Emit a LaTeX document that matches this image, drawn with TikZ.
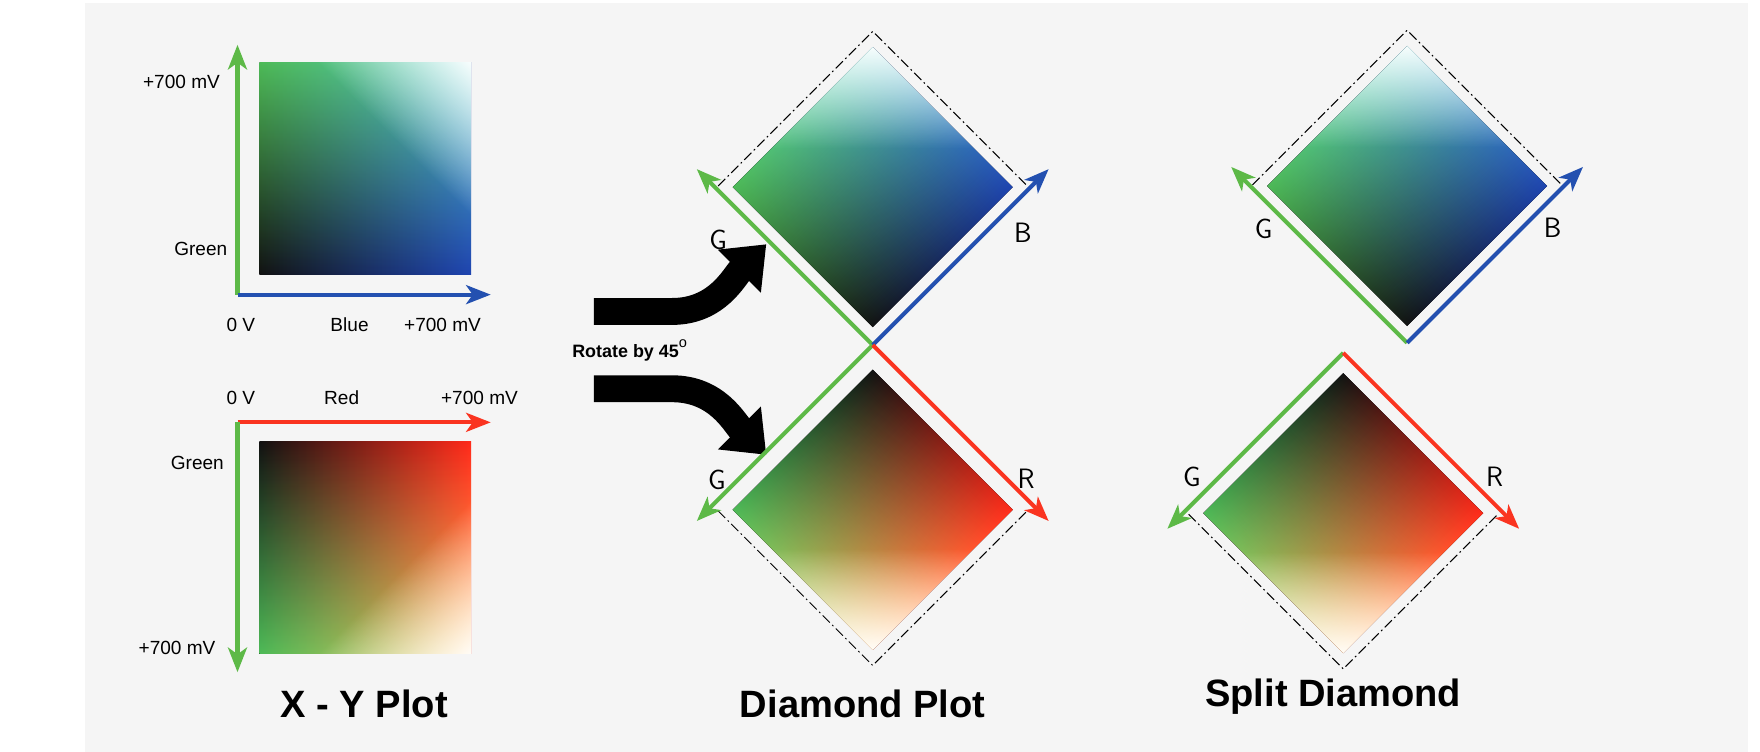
\documentclass[tikz,border=0pt]{standalone}
\usepackage{fontspec}
\setmainfont{Liberation Sans}
\usetikzlibrary{arrows.meta}
\definecolor{bg}{HTML}{F5F5F5}
\definecolor{ag}{HTML}{5DB947}
\definecolor{ab}{HTML}{2350B0}
\definecolor{ar}{HTML}{FA3420}
\definecolor{cg}{HTML}{40B44A}
\definecolor{cb}{HTML}{1E44B0}
\definecolor{cr}{HTML}{FF2A1A}
\definecolor{ck}{HTML}{111111}
\pgfdeclarehorizontalshading{wcorner}{100bp}{color(0bp)=(black); color(60bp)=(black); color(87bp)=(white); color(100bp)=(white)}
% #1 half side, #2 x colour (grows left->right), #3 top colour of vertical, #4 bottom colour of vertical, #5 white corner angle
\newcommand\colsq[5]{%
  \begin{scope}[yscale=-1]
  \fill[left color=ck,right color=#2] (-#1,-#1) rectangle (#1,#1);
  \fill[top color=#3,bottom color=#4,blend mode=screen] (-#1,-#1) rectangle (#1,#1);
  \fill[shading=wcorner,shading angle=#5,blend mode=screen] (-#1,-#1) rectangle (#1,#1);
  \end{scope}}
\tikzset{
  axis/.style={line width=3.6pt,-{Stealth[length=22pt,width=17pt,inset=6pt]}},
  lbl/.style={font=\fontsize{17}{17}\selectfont,inner sep=0pt},
  axl/.style={font=\fontsize{25}{25}\selectfont\sffamily,inner sep=0pt},
  ttl/.style={font=\fontsize{34}{34}\selectfont\bfseries,inner sep=0pt},
  dsh/.style={line width=0.9pt,dash pattern=on 9pt off 3pt on 1.5pt off 3pt},
  bigarrow/.style={line width=24pt,-{Triangle[length=34pt,width=52pt]}}
}
\begin{document}
\begin{tikzpicture}[x=1pt,y=-1pt]
\useasboundingbox (0,0) rectangle (1571,671);
\fill[white] (0,0) rectangle (1571,671);
\fill[bg] (76,3) rectangle (1560,671);
% ---------- X-Y plot ----------
\begin{scope}[shift={(326,150.5)}]
  \colsq{94.5}{cb}{cg}{black}{45}
\end{scope}
\begin{scope}[shift={(326,489)}]
  \colsq{94.5}{cr}{black}{cg}{-45}
\end{scope}
\coordinate (o1) at (212,263);
\coordinate (g1) at (212,40);
\coordinate (b1) at (438,263);
\coordinate (o2) at (212,377);
\coordinate (g2) at (212,600);
\coordinate (r2) at (438,377);
\draw[axis,ag] (o1) -- (g1);
\draw[axis,ab] (o1) -- (b1);
\draw[axis,ar] (o2) -- (r2);
\draw[axis,ag] (o2) -- (g2);
\node[lbl] (t1) at (162,73) {+700 mV};
\node[lbl,anchor=east] (t2) at (203,222) {Green};
\node[lbl] (t3) at (215,290) {0 V};
\node[lbl] (t4) at (312,290) {Blue};
\node[lbl] (t5) at (395,290) {+700 mV};
\node[lbl] (t6) at (215,355) {0 V};
\node[lbl] (t7) at (305,355) {Red};
\node[lbl] (t8) at (428,355) {+700 mV};
\node[lbl,anchor=east] (t9) at (200,413) {Green};
\node[lbl] (t10) at (158,578) {+700 mV};
\node[ttl] (T1) at (325,628) {X - Y Plot};
% ---------- arrows ----------
\coordinate (a1s) at (530,278);
\coordinate (a1e) at (684,218);
\coordinate (a2s) at (530,347);
\coordinate (a2e) at (684,406);
\draw[bigarrow,black] (a1s) -- (600,278) to[out=0,in=225] (a1e);
\draw[bigarrow,black] (a2s) -- (600,347) to[out=0,in=135] (a2e);
\node[font=\fontsize{16}{16}\selectfont\bfseries,inner sep=0pt] (rot) at (562,313) {Rotate by 45\raisebox{9pt}{\fontsize{13}{13}\selectfont\mdseries o}};
% ---------- Diamond plot ----------
\begin{scope}[transform canvas={shift={(779,167)},rotate=45}]
  \colsq{88.4}{cb}{cg}{black}{45}
\end{scope}
\begin{scope}[transform canvas={shift={(779,455)},rotate=-45}]
  \colsq{88.4}{cr}{black}{cg}{-45}
\end{scope}
\draw[dsh] (641,166) -- (779,28) -- (917,166);
\draw[dsh] (641,456) -- (779,594) -- (917,456);
\coordinate (O) at (779,308);
\coordinate (Og) at (622,151);
\coordinate (Ob) at (936,151);
\coordinate (Og2) at (622,465);
\coordinate (Or) at (936,465);
\draw[axis,ag] (O) -- (Og);
\draw[axis,ab] (O) -- (Ob);
\draw[axis,ag] (O) -- (Og2);
\draw[axis,ar] (O) -- (Or);
\node[axl] (G1) at (641,214) {G};
\node[axl] (B1) at (913,208) {B};
\node[axl] (G2) at (640,428) {G};
\node[axl] (R1) at (916,427) {R};
\node[ttl] (T2) at (770,628) {Diamond Plot};
% ---------- Split diamond ----------
\begin{scope}[transform canvas={shift={(1256,166)},rotate=45}]
  \colsq{88.4}{cb}{cg}{black}{45}
\end{scope}
\begin{scope}[transform canvas={shift={(1199,458)},rotate=-45}]
  \colsq{88.4}{cr}{black}{cg}{-45}
\end{scope}
\draw[dsh] (1118,165) -- (1256,27) -- (1394,165);
\draw[dsh] (1061,459) -- (1199,597) -- (1337,459);
\coordinate (P) at (1256,306);
\coordinate (Pg) at (1099,149);
\coordinate (Pb) at (1413,149);
\coordinate (Q) at (1199,315);
\coordinate (Qg) at (1042,472);
\coordinate (Qr) at (1356,472);
\draw[axis,ag] (P) -- (Pg);
\draw[axis,ab] (P) -- (Pb);
\draw[axis,ag] (Q) -- (Qg);
\draw[axis,ar] (Q) -- (Qr);
\node[axl] (G3) at (1128,204) {G};
\node[axl] (B2) at (1386,203) {B};
\node[axl] (G4) at (1064,426) {G};
\node[axl] (R2) at (1334,426) {R};
\node[ttl] (T3) at (1190,622) {Split Diamond};
\end{tikzpicture}
\end{document}
